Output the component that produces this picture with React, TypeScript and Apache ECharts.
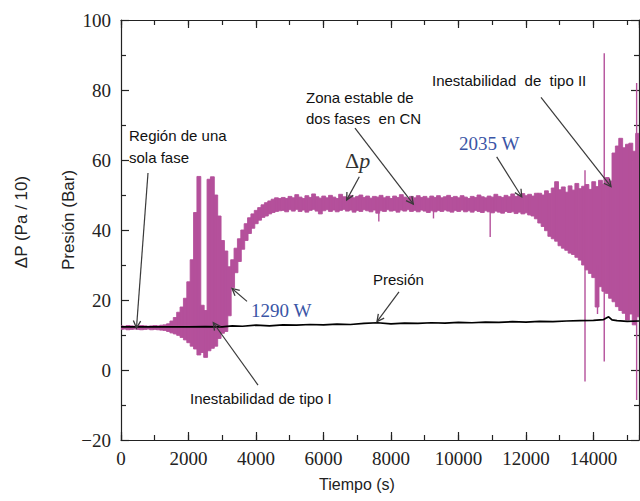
import React, { useEffect, useRef } from "react";
import * as echarts from "echarts";

// ---------- data ----------
const X_MAX = 15350;
const dpStep = 100; // sampling step (s) of the ΔP envelope, starting at t = 0

const dpUpper = [
  12.6, 12.5, 12.7, 12.6, 12.5, 12.6, 12.7, 12.6, 12.5, 12.6, 12.7, 12.6, 12.8, 12.9,
  13.2, 14.0, 15.0, 16.5, 18.0, 20.5,
  25.2, 31.5, 45.0, 55.3, 18.5, 17.0, 54.5, 55.2, 50.0, 44.0, 37.0, 34.0, 29.5, 31.5,
  34.8, 37.5, 40.0, 41.8, 43.5, 44.6, 45.6, 46.4, 47.2, 47.8, 48.3, 48.8, 49.2, 49.0,
  49.3, 49.0, 49.6, 49.2, 50.1, 49.4, 49.0, 49.8, 49.3, 50.3,
  49.5, 49.1, 49.7, 49.2, 49.9, 49.4, 49.0, 50.2, 49.5, 49.3,
  49.8, 49.2, 49.6, 50.0, 49.3, 49.7, 49.1, 49.6, 49.4, 49.9,
  49.2, 49.6, 49.0, 49.7, 49.3, 50.1, 49.4, 49.0, 49.6, 49.2,
  49.8, 49.3, 49.6, 49.1, 49.7, 49.3, 49.8, 49.2, 49.5, 49.9,
  49.3, 49.6, 49.2, 49.8, 49.4, 49.0, 49.6, 49.3, 50.0, 49.5,
  49.2, 49.7, 49.4, 50.2, 49.6, 49.3, 49.9, 49.5, 50.3, 49.6,
  49.9, 50.4, 49.8, 50.2, 49.7, 50.5,
  50.5, 50.0, 51.2, 50.4, 52.0, 53.8, 51.5, 52.3, 50.8, 52.6,
  51.4, 53.3, 51.8, 52.5, 53.0, 51.6, 53.8, 52.4, 54.2, 53.0,
  55.0, 54.0, 62.0, 64.0, 66.2, 63.5, 64.5, 64.8, 62.5, 67.6,
];

const dpLower = [
  11.6, 11.7, 11.5, 11.6, 11.7, 11.6, 11.5, 11.6, 11.7, 11.5, 11.6, 11.5, 11.4, 11.3,
  11.0, 10.6, 10.3, 9.9, 9.3, 8.6,
  7.8, 6.8, 6.0, 4.3, 5.0, 3.6, 5.5, 6.2, 6.8, 9.0, 10.5, 11.0, 15.5, 23.5,
  27.8, 31.0, 34.5, 37.0, 39.0, 40.5, 41.8, 42.8, 43.6, 44.0, 44.6, 45.0, 45.3, 45.5,
  45.6, 45.2, 45.8, 45.4, 45.9, 45.3, 45.7, 45.1, 45.6, 45.9,
  45.4, 44.6, 45.5, 45.8, 45.3, 45.7, 45.2, 45.6, 45.9, 45.4,
  45.7, 45.1, 45.6, 45.3, 45.8, 45.5, 45.2, 45.7, 44.8, 45.5,
  45.3, 45.8, 45.4, 45.6, 45.1, 45.7, 45.4, 45.8, 45.3, 45.6,
  45.2, 45.7, 45.4, 45.0, 45.5, 45.2, 45.6, 45.3, 45.7, 45.4,
  45.1, 45.6, 45.3, 45.7, 45.2, 45.5, 45.1, 45.6, 45.3, 45.0,
  45.5, 45.2, 44.9, 45.4, 45.1, 44.8, 45.3, 45.0, 45.2, 44.7,
  45.1, 44.6, 44.9, 44.3, 44.0, 43.2,
  42.0, 41.0, 39.8, 38.2, 37.5, 36.8, 35.5, 34.8, 34.2, 33.4,
  33.0, 32.2, 31.4, 30.0, 28.6, 27.6, 26.4, 18.0, 23.8, 22.5,
  21.9, 20.5, 19.5, 18.1, 17.0, 16.2, 14.3, 16.0, 12.9, 15.2,
];

// thin isolated spikes of ΔP
const spikeTime = [7640, 9260, 10940, 13750, 14120, 14320, 15280];
const spikeLow = [42.4, 43.3, 38.0, -3.3, 16.0, 2.4, -8.6];
const spikeHigh = [46.0, 46.0, 46.0, 57.1, 30.0, 90.5, 82.0];

// pressure (Bar)
const presTime = [
  0, 500, 1000, 1500, 2000, 2500, 3000, 3300, 3600, 4000, 4400, 4800, 5200, 5600,
  6000, 6400, 6800, 7200, 7600, 8000, 8400, 8800, 9200, 9600, 10000, 10400, 10800,
  11200, 11600, 12000, 12400, 12800, 13200, 13600, 14000, 14300, 14450, 14550,
  14700, 15000, 15350,
];
const presValue = [
  12.3, 12.3, 12.3, 12.3, 12.3, 12.4, 12.3, 12.6, 12.5, 12.8, 12.6, 12.9, 12.8, 13.0,
  12.9, 13.1, 13.0, 13.3, 13.5, 13.2, 13.4, 13.3, 13.5, 13.4, 13.6, 13.5, 13.7,
  13.6, 13.8, 13.7, 13.9, 13.8, 14.0, 14.1, 14.2, 14.4, 15.2, 14.3,
  14.1, 13.9, 14.0,
];

// annotation arrows (data coordinates: [time, value])
const arrowFrom = [
  [800, 56.3], [3734, 19.6], [4060, -4.3], [8238, 22.3],
  [7062, 55.2], [6934, 69.1], [11133, 60.9], [12446, 77.9],
];
const arrowTo = [
  [459, 12.0], [3289, 23.3], [2735, 13.5], [7586, 13.8],
  [6688, 48.6], [8662, 47.4], [11874, 49.5], [14520, 52.4],
];

// annotation texts (pixel layout)
const blackLabels = [
  { text: "Región de una", x: 129, y: 135 },
  { text: "sola fase", x: 129, y: 157 },
  { text: "Zona estable de", x: 306, y: 97 },
  { text: "dos fases  en CN", x: 306, y: 118 },
  { text: "Inestabilidad  de  tipo II", x: 432, y: 80 },
  { text: "Presión", x: 373, y: 279 },
  { text: "Inestabilidad de tipo I", x: 190, y: 398 },
];
const blueLabels = [
  { text: "1290 W", x: 251, y: 310 },
  { text: "2035 W", x: 459, y: 143 },
];

const MAGENTA = "#b4509b";
const AXIS = "#222";
const SANS = "'Liberation Sans', Arial, sans-serif";
const SERIF = "'Liberation Serif', 'Times New Roman', serif";

export default function App() {
  const ref = useRef<HTMLDivElement>(null);

  useEffect(() => {
    const chart = echarts.init(ref.current!, null, { renderer: "svg" });

    const dpData = dpUpper.map((hi, i) => [i * dpStep, dpLower[i], hi]);
    const spikeData = spikeTime.map((t, i) => [t, spikeLow[i], spikeHigh[i]]);
    const presData = presTime.map((t, i) => [t, presValue[i]]);

    const lineStyle = { color: AXIS, width: 1.2 };
    const xBase = {
      type: "value",
      min: 0,
      max: X_MAX,
      splitLine: { show: false },
      gridIndex: 0,
    };
    const yBase = {
      type: "value",
      min: -20,
      max: 100,
      interval: 20,
      splitLine: { show: false },
      axisLine: { show: true, onZero: false, lineStyle },
      axisTick: { show: true, inside: true, length: 8, lineStyle },
      minorTick: { show: true, splitNumber: 2, length: 5, lineStyle },
    };

    chart.setOption({
      animation: false,
      grid: { left: 121, right: 1, top: 20, bottom: 61, containLabel: false },
      xAxis: [
        {
          ...xBase,
          position: "bottom",
          interval: 2000,
          axisLine: { show: true, onZero: false, lineStyle },
          axisTick: { show: true, inside: true, length: 8, lineStyle },
          axisLabel: {
            fontFamily: SERIF,
            fontSize: 19,
            color: AXIS,
            margin: 9,
            showMaxLabel: false,
            formatter: (v: number) => String(v),
          },
        },
        {
          ...xBase,
          position: "bottom",
          interval: 1000,
          axisLine: { show: false, onZero: false },
          axisTick: { show: true, inside: true, length: 5, lineStyle },
          axisLabel: { show: false },
        },
        {
          ...xBase,
          position: "top",
          interval: 2000,
          axisLine: { show: true, onZero: false, lineStyle },
          axisTick: { show: true, inside: true, length: 8, lineStyle },
          axisLabel: { show: false },
        },
        {
          ...xBase,
          position: "top",
          interval: 1000,
          axisLine: { show: false, onZero: false },
          axisTick: { show: true, inside: true, length: 5, lineStyle },
          axisLabel: { show: false },
        },
      ],
      yAxis: [
        {
          ...yBase,
          position: "left",
          axisLabel: {
            fontFamily: SERIF,
            fontSize: 19,
            color: AXIS,
            margin: 10,
            formatter: (v: number) => (v < 0 ? "\u2212" + Math.abs(v) : String(v)),
          },
        },
        { ...yBase, position: "right", axisLabel: { show: false } },
      ],
      series: [
        {
          type: "custom",
          name: "ΔP",
          xAxisIndex: 0,
          yAxisIndex: 0,
          clip: true,
          silent: true,
          data: dpData,
          encode: { x: 0, y: [1, 2] },
          renderItem: (_p: any, api: any) => {
            const t = api.value(0);
            const a = api.coord([t - dpStep / 2, api.value(2)]);
            const b = api.coord([t + dpStep / 2, api.value(1)]);
            return {
              type: "rect",
              shape: { x: a[0], y: a[1], width: b[0] - a[0] + 0.5, height: b[1] - a[1] },
              style: { fill: MAGENTA, stroke: MAGENTA, lineWidth: 0.9 },
            };
          },
          z: 2,
        },
        {
          type: "custom",
          name: "ΔP spikes",
          xAxisIndex: 0,
          yAxisIndex: 0,
          clip: true,
          silent: true,
          data: spikeData,
          encode: { x: 0, y: [1, 2] },
          renderItem: (_p: any, api: any) => {
            const t = api.value(0);
            const a = api.coord([t, api.value(2)]);
            const b = api.coord([t, api.value(1)]);
            return {
              type: "line",
              shape: { x1: a[0], y1: a[1], x2: b[0], y2: b[1] },
              style: { stroke: MAGENTA, lineWidth: 1.4 },
            };
          },
          z: 2,
        },
        {
          type: "line",
          name: "Presión",
          xAxisIndex: 0,
          yAxisIndex: 0,
          data: presData,
          showSymbol: false,
          silent: true,
          lineStyle: { color: "#000", width: 1.7 },
          z: 5,
        },
      ],
    });

    const graphics: any[] = [];
    const arrowColor = "#3a3a3a";
    arrowFrom.forEach((from, i) => {
      const p0 = chart.convertToPixel({ seriesIndex: 0 }, from) as number[];
      const p1 = chart.convertToPixel({ seriesIndex: 0 }, arrowTo[i]) as number[];
      const dx = p1[0] - p0[0];
      const dy = p1[1] - p0[1];
      const len = Math.hypot(dx, dy) || 1;
      const ux = dx / len;
      const uy = dy / len;
      const hl = 8;
      const ang = (27 * Math.PI) / 180;
      const c = Math.cos(ang);
      const s = Math.sin(ang);
      const h1 = [p1[0] - hl * (ux * c - uy * s), p1[1] - hl * (uy * c + ux * s)];
      const h2 = [p1[0] - hl * (ux * c + uy * s), p1[1] - hl * (uy * c - ux * s)];
      graphics.push({
        type: "line",
        shape: { x1: p0[0], y1: p0[1], x2: p1[0], y2: p1[1] },
        style: { stroke: arrowColor, lineWidth: 1.2 },
        z: 10,
      });
      graphics.push({
        type: "polyline",
        shape: { points: [h1, p1, h2] },
        style: { stroke: arrowColor, lineWidth: 1.3, fill: "none" },
        z: 10,
      });
    });

    blackLabels.forEach((l) => {
      graphics.push({
        type: "text",
        x: l.x,
        y: l.y,
        style: {
          text: l.text,
          fontFamily: SANS,
          fontSize: 15,
          fill: "#111",
          align: "left",
          verticalAlign: "middle",
        },
        z: 11,
      });
    });
    blueLabels.forEach((l) => {
      graphics.push({
        type: "text",
        x: l.x,
        y: l.y,
        style: {
          text: l.text,
          fontFamily: SERIF,
          fontSize: 19,
          fill: "#3a55a6",
          align: "left",
          verticalAlign: "middle",
        },
        z: 11,
      });
    });
    graphics.push({
      type: "text",
      x: 345,
      y: 160,
      style: {
        text: "{a|Δ}{b|p}",
        rich: {
          a: { fontFamily: SERIF, fontSize: 22, fill: "#333" },
          b: { fontFamily: SERIF, fontSize: 22, fontStyle: "italic", fill: "#333" },
        },
        align: "left",
        verticalAlign: "middle",
      },
      z: 11,
    });
    // axis titles
    graphics.push({
      type: "text",
      x: 357,
      y: 484,
      style: {
        text: "Tiempo (s)",
        fontFamily: SANS,
        fontSize: 16,
        fill: "#222",
        align: "center",
        verticalAlign: "middle",
      },
    });
    graphics.push({
      type: "text",
      x: 21,
      y: 222,
      rotation: Math.PI / 2,
      style: {
        text: "ΔP (Pa / 10)",
        fontFamily: SANS,
        fontSize: 17,
        fill: "#222",
        align: "center",
        verticalAlign: "middle",
      },
    });
    graphics.push({
      type: "text",
      x: 68,
      y: 220,
      rotation: Math.PI / 2,
      style: {
        text: "Presión (Bar)",
        fontFamily: SANS,
        fontSize: 17,
        fill: "#222",
        align: "center",
        verticalAlign: "middle",
      },
    });

    chart.setOption({ graphic: graphics });

    return () => chart.dispose();
  }, []);

  return (
    <div
      ref={ref}
      style={{ position: "fixed", left: 0, top: 0, width: 640, height: 501, background: "#fff" }}
    />
  );
}
